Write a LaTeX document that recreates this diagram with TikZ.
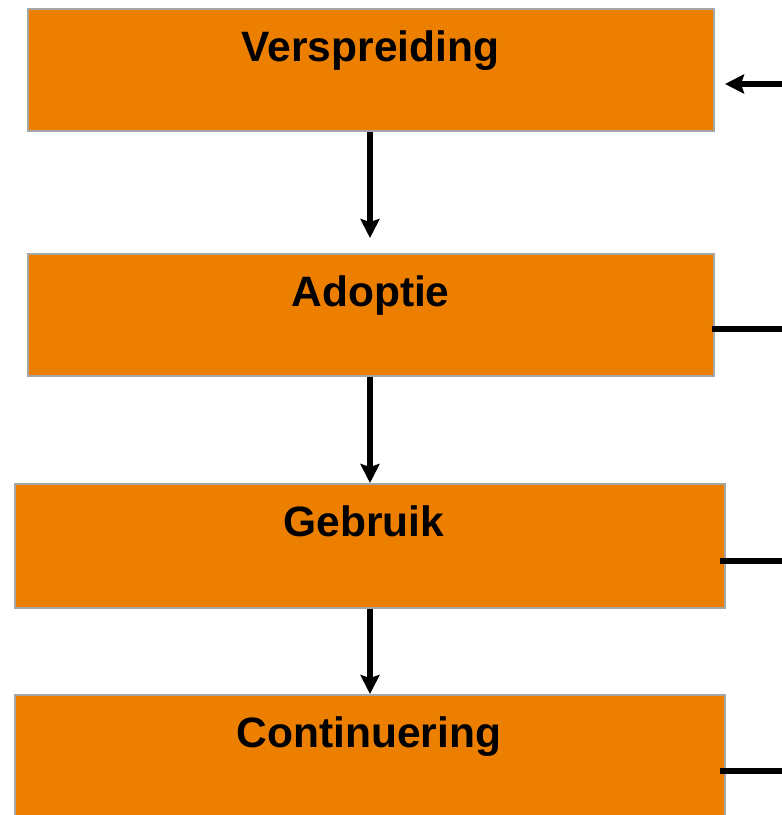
\documentclass[tikz,border=0pt]{standalone}
\usepackage{fontspec}
\setmainfont{Liberation Sans}
\usetikzlibrary{arrows.meta,calc}
\definecolor{boxorange}{RGB}{236,127,0}
\definecolor{boxgrey}{RGB}{166,166,166}
\tikzset{
  stagebox/.style={draw=boxgrey, line width=2pt, fill=boxorange, rectangle, inner sep=0pt},
  stagelabel/.style={font=\bfseries\fontsize{42.5}{42.5}\selectfont, anchor=base, inner sep=0pt},
  flow/.style={line width=6pt, -{Stealth[length=19pt,width=19pt,inset=3pt]}},
  sideline/.style={line width=6pt}
}
\begin{document}
\begin{tikzpicture}[x=1pt,y=-1pt]
\useasboundingbox (0,0) rectangle (782,815);
\clip (0,0) rectangle (782,815);
\node[stagebox, minimum width=686pt, minimum height=122pt] (b1) at (370.5,70) {};
\node[stagebox, minimum width=686pt, minimum height=122pt] (b2) at (370.5,315) {};
\node[stagebox, minimum width=710pt, minimum height=124pt] (b3) at (370,546) {};
\node[stagebox, minimum width=710pt, minimum height=160pt] (b4) at (370,775) {};
\node[stagelabel] (t1) at (370.5,61) {Verspreiding};
\node[stagelabel] (t2) at (370.5,306) {Adoptie};
\node[stagelabel] (t3) at (364,536) {Gebruik};
\node[stagelabel] (t4) at (369,747) {Continuering};
\coordinate (a1) at (370,238);
\draw[flow] (b1.south -| a1) -- (a1);
\draw[flow] (b2.south -| a1) -- (b3.north -| a1);
\draw[flow] (b3.south -| a1) -- (b4.north -| a1);
\coordinate (r1) at (782,84);
\coordinate (r2) at (782,329);
\coordinate (r3) at (782,561);
\coordinate (r4) at (782,771);
\coordinate (e1) at (725,84);
\draw[flow] (r1) -- (e1);
\draw[sideline] ($(b2.east |- r2)+(-3,0)$) -- (r2);
\draw[sideline] ($(b3.east |- r3)+(-6,0)$) -- (r3);
\draw[sideline] ($(b4.east |- r4)+(-6,0)$) -- (r4);
\end{tikzpicture}
\end{document}
